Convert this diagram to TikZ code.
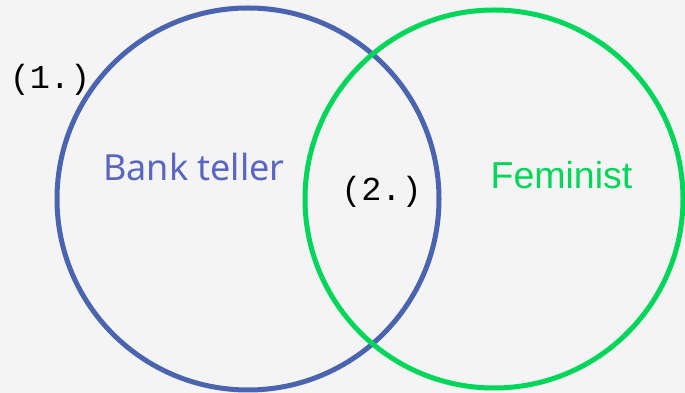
\documentclass[tikz,border=0pt]{standalone}
\usepackage{fontspec}
\newfontfamily\labelfont{Noto Sans}
\newfontfamily\arialfont{Liberation Sans}
\newfontfamily\tagfont{Liberation Mono}
\definecolor{bgcol}{HTML}{F4F4F4}
\definecolor{tellerblue}{HTML}{4A64B0}
\definecolor{tellertext}{HTML}{5A66C0}
\definecolor{femgreen}{HTML}{00D65A}
\begin{document}
\begin{tikzpicture}[x=1pt,y=1pt,
  ring/.style={circle, draw, line width=5pt, inner sep=0pt, minimum size=#1},
  setlabel/.style={inner sep=0pt},
  tag/.style={inner sep=0pt, font=\tagfont\fontsize{33.5}{33.5}\selectfont}]
  % canvas
  \fill[bgcol] (0,0) rectangle (685,393);
  \useasboundingbox (0,0) rectangle (685,393);
  % the two sets
  \node[ring=382pt, draw=tellerblue] (teller) at (248,194) {};
  \node[ring=378pt, draw=femgreen] (feminist) at (494,194) {};
  % set names
  \node[setlabel, text=tellertext, font=\labelfont\fontsize{36}{36}\selectfont]
    (tellername) at (194,226) {Bank teller};
  \node[setlabel, text=femgreen, font=\arialfont\fontsize{37.5}{37.5}\selectfont]
    (femname) at (561.5,217.5) {Feminist};
  % region tags
  \node[tag] (one) at (50,313) {(1.)};
  \node[tag] (two) at (381.5,201) {(2.)};
\end{tikzpicture}
\end{document}
